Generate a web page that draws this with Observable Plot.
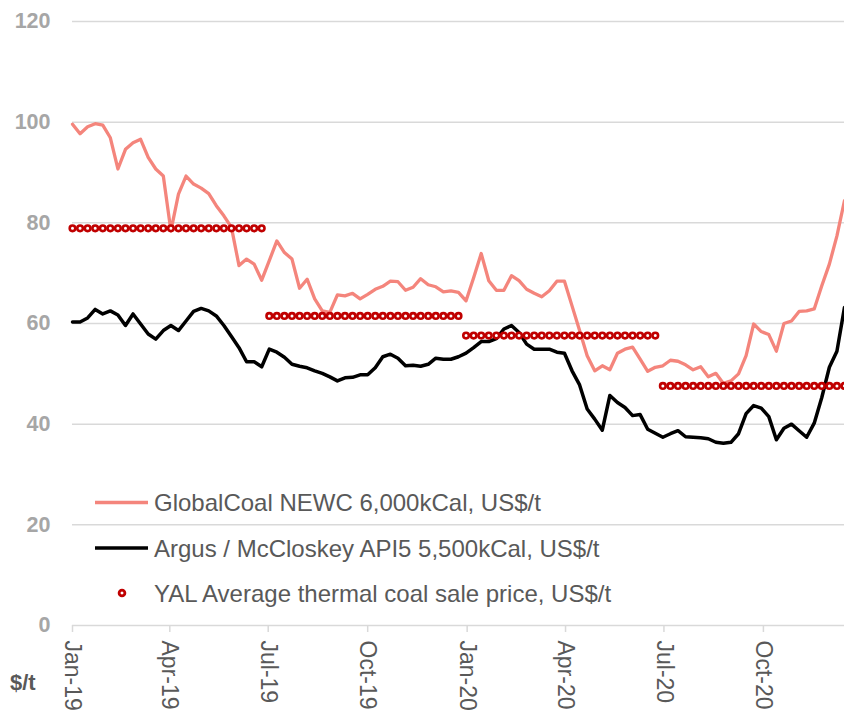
<!DOCTYPE html>
<html>
<head>
<meta charset="utf-8">
<script src="https://cdn.jsdelivr.net/npm/d3@7"></script>
<script src="https://cdn.jsdelivr.net/npm/@observablehq/plot@0.6"></script>
<style>
  html, body { margin: 0; padding: 0; background: #fff; }
  #wrap { position: relative; width: 844px; height: 714px; overflow: hidden; font-family: "Liberation Sans", Arial, sans-serif; }
  #wrap svg.overlay { position: absolute; left: 0; top: 0; pointer-events: none; }
</style>
</head>
<body>
<div id="wrap"></div>
<script>
// ---- data ----
const startDate = "2019-01-01";   // first weekly observation
const endDate = "2020-12-15";     // last weekly observation

// GlobalCoal NEWC 6,000kCal, US$/t (weekly)
const newc = [
  99.6, 97.7, 99.1, 99.7, 99.4, 96.9, 90.7, 94.6, 95.9, 96.6,
  93.0, 90.7, 89.3, 78.4, 85.7, 89.3, 87.7, 86.9, 85.8, 83.4,
  81.4, 79.1, 71.5, 72.8, 71.8, 68.6, 72.5, 76.4, 74.1, 72.8,
  67.0, 68.8, 64.9, 62.5, 62.2, 65.7, 65.5, 66.0, 64.9, 65.8,
  66.8, 67.4, 68.4, 68.3, 66.6, 67.2, 68.9, 67.7, 67.3, 66.3,
  66.5, 66.2, 64.5, 69.1, 73.9, 68.5, 66.6, 66.6, 69.5, 68.5,
  66.8, 66.0, 65.3, 66.5, 68.4, 68.4, 63.5, 58.6, 53.6, 50.6,
  51.6, 50.8, 54.1, 54.9, 55.3, 52.9, 50.5, 51.3, 51.6, 52.7,
  52.5, 51.8, 50.8, 51.4, 49.4, 50.1, 48.1, 48.6, 50.0, 53.6,
  59.9, 58.4, 57.8, 54.5, 60.0, 60.5, 62.4, 62.5, 62.9, 67.5,
  71.8, 77.4, 84.4
];

// Argus / McCloskey API5 5,500kCal, US$/t (weekly)
const api5 = [
  60.3, 60.3, 61.1, 62.8, 61.9, 62.5, 61.7, 59.6, 61.9, 59.9,
  57.9, 56.9, 58.6, 59.6, 58.6, 60.5, 62.4, 63.0, 62.5, 61.5,
  59.6, 57.4, 55.2, 52.4, 52.4, 51.4, 54.9, 54.3, 53.3, 51.9,
  51.5, 51.2, 50.6, 50.1, 49.4, 48.6, 49.2, 49.3, 49.8, 49.8,
  51.2, 53.4, 53.9, 53.1, 51.6, 51.7, 51.5, 51.9, 53.1, 52.9,
  52.9, 53.4, 54.1, 55.2, 56.4, 56.4, 57.0, 58.9, 59.6, 58.2,
  55.9, 54.9, 54.9, 54.9, 54.3, 54.1, 50.6, 47.8, 43.0, 41.0,
  38.8, 45.7, 44.3, 43.3, 41.7, 41.9, 39.0, 38.2, 37.4, 38.1,
  38.7, 37.5, 37.4, 37.3, 37.1, 36.4, 36.2, 36.4, 38.1, 42.1,
  43.7, 43.2, 41.5, 36.9, 39.2, 40.0, 38.7, 37.4, 40.2, 45.3,
  51.3, 54.5, 63.2
];

// YAL Average thermal coal sale price, US$/t (per half year)
const yalPeriods = ["H1 2019", "H2 2019", "H1 2020", "H2 2020"];
const yalValues = [78.9, 61.5, 57.6, 47.6];
const yalFirstWeek = [0, 26, 52, 78];   // first weekly observation of each half year

// axis ticks
const xTickDates = ["2019-01-01", "2019-04-01", "2019-07-01", "2019-10-01", "2020-01-01", "2020-04-01", "2020-07-01", "2020-10-01"];
const xTickLabels = ["Jan-19", "Apr-19", "Jul-19", "Oct-19", "Jan-20", "Apr-20", "Jul-20", "Oct-20"];
const yTicks = [0, 20, 40, 60, 80, 100, 120];

const seriesNames = [
  "GlobalCoal NEWC 6,000kCal, US$/t",
  "Argus / McCloskey API5 5,500kCal, US$/t",
  "YAL Average thermal coal sale price, US$/t"
];
const unitLabel = "$/t";

// ---- build tables ----
const t0 = new Date(startDate);
const weekDate = i => d3.utcDay.offset(t0, 7 * i);
const newcData = newc.map((v, i) => ({date: weekDate(i), value: v}));
const api5Data = api5.map((v, i) => ({date: weekDate(i), value: v}));
const yalData = [];
newc.forEach((_, i) => {
  let p = 0;
  for (let k = 0; k < yalFirstWeek.length; k++) if (i >= yalFirstWeek[k]) p = k;
  yalData.push({date: weekDate(i), value: yalValues[p], period: yalPeriods[p]});
});
const tickDates = xTickDates.map(d => new Date(d));
const tickLabelMap = new Map(tickDates.map((d, i) => [+d, xTickLabels[i]]));

const PINK = "#f4857c";
const RED = "#c00000";
const GRID = "#d9d9d9";
const FONT = '"Liberation Sans", Arial, sans-serif';

const chart = Plot.plot({
  width: 844,
  height: 714,
  marginTop: 21,
  marginBottom: 89,
  marginLeft: 72,
  marginRight: 0,
  style: {fontFamily: FONT, background: "#fff", overflow: "visible"},
  x: {type: "utc", domain: [t0, new Date(endDate)]},
  y: {domain: [0, 120]},
  marks: [
    Plot.gridY(yTicks, {stroke: GRID, strokeOpacity: 1, strokeWidth: 1.5}),
    Plot.axisY(yTicks, {tickSize: 0, tickPadding: 22, fontSize: 21.5, fontWeight: "bold", fill: "#a6a6a6", label: null}),
    Plot.axisX(tickDates, {
      tickFormat: d => tickLabelMap.get(+d),
      tickRotate: 90, tickSize: 7, tickPadding: 8,
      stroke: GRID, strokeWidth: 1.5, fill: "#595959", fontSize: 23, label: null
    }),
    Plot.line(newcData, {x: "date", y: "value", stroke: PINK, strokeWidth: 3.3}),
    Plot.line(api5Data, {x: "date", y: "value", stroke: "#000", strokeWidth: 3.5}),
    Plot.dot(yalData, {x: "date", y: "value", r: 2.8, stroke: RED, strokeWidth: 2.6, fill: "#fff"})
  ]
});

const wrap = document.getElementById("wrap");
wrap.appendChild(chart);

// ---- legend overlay + unit label ----
const ov = d3.select(wrap).append("svg")
  .attr("class", "overlay")
  .attr("width", 844).attr("height", 714)
  .style("font-family", FONT);

const rows = [
  {name: seriesNames[0], kind: "line", color: PINK, w: 3.3, cy: 502.5},
  {name: seriesNames[1], kind: "line", color: "#000", w: 3.5, cy: 548},
  {name: seriesNames[2], kind: "dot", color: RED, w: 2.8, cy: 593}
];
rows.forEach(r => {
  if (r.kind === "line") {
    ov.append("line").attr("x1", 95).attr("x2", 148).attr("y1", r.cy).attr("y2", r.cy)
      .attr("stroke", r.color).attr("stroke-width", r.w);
  } else {
    ov.append("circle").attr("cx", 122).attr("cy", r.cy).attr("r", 2.9)
      .attr("stroke", r.color).attr("stroke-width", r.w).attr("fill", "#fff");
  }
  ov.append("text").attr("x", 154).attr("y", r.cy + 8.7)
    .attr("font-size", 24).attr("fill", "#595959").text(r.name);
});
ov.append("text").attr("x", 10).attr("y", 690)
  .attr("font-size", 22).attr("font-weight", "bold").attr("fill", "#595959").text(unitLabel);
</script>
</body>
</html>
